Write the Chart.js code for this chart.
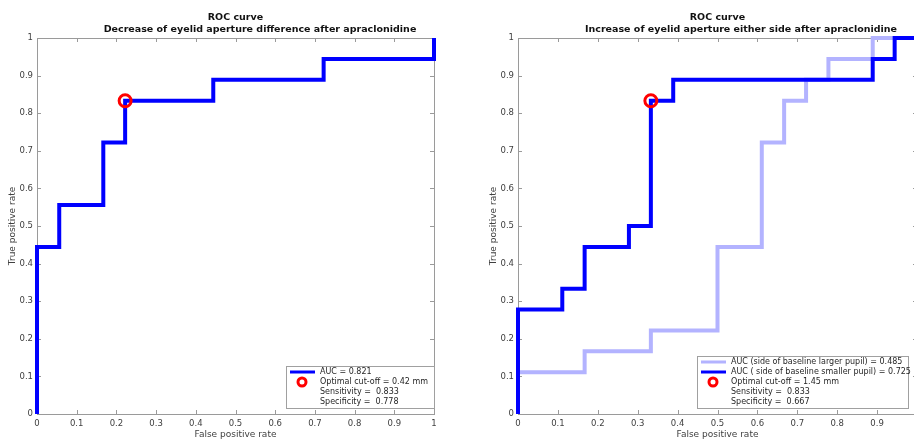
<!DOCTYPE html>
<html>
<head>
<meta charset="utf-8">
<script src="https://cdn.jsdelivr.net/npm/chart.js@4/dist/chart.umd.min.js"></script>
<style>
html, body { margin: 0; padding: 0; background: #fff; }
body { width: 914px; height: 439px; overflow: hidden; position: relative; }
canvas { position: absolute; top: 0; }
#rocIzq { left: 0; }
#rocDer { left: 481px; }
</style>
</head>
<body>
<canvas id="rocIzq" width="520" height="439"></canvas>
<canvas id="rocDer" width="520" height="439"></canvas>
<script>
// Datos (curvas ROC escalonadas)

// Panel izquierdo: disminucion de la diferencia de apertura palpebral
const izqFpr = [0, 0, 0.056, 0.056, 0.167, 0.167, 0.222, 0.222, 0.444, 0.444, 0.722, 0.722, 1, 1];
const izqTpr = [0, 0.444, 0.444, 0.556, 0.556, 0.722, 0.722, 0.833, 0.833, 0.889, 0.889, 0.944, 0.944, 1];
const corteIzq = [0.222, 0.833];
const leyendaIzq = ['AUC = 0.821', 'Optimal cut-off = 0.42 mm', 'Sensitivity =  0.833', 'Specificity =  0.778'];

// Panel derecho: pupila mayor (claro) y pupila menor (oscuro)
const mayorFpr = [0, 0, 0.167, 0.167, 0.333, 0.333, 0.5, 0.5, 0.611, 0.611, 0.667, 0.667, 0.722, 0.722, 0.778, 0.778, 0.889, 0.889, 1];
const mayorTpr = [0, 0.111, 0.111, 0.167, 0.167, 0.222, 0.222, 0.444, 0.444, 0.722, 0.722, 0.833, 0.833, 0.889, 0.889, 0.944, 0.944, 1, 1];
const menorFpr = [0, 0, 0.111, 0.111, 0.167, 0.167, 0.278, 0.278, 0.333, 0.333, 0.389, 0.389, 0.889, 0.889, 0.944, 0.944, 1];
const menorTpr = [0, 0.278, 0.278, 0.333, 0.333, 0.444, 0.444, 0.5, 0.5, 0.833, 0.833, 0.889, 0.889, 0.944, 0.944, 1, 1];
const corteDer = [0.333, 0.833];
const leyendaDer = ['AUC (side of baseline larger pupil) = 0.485', 'AUC ( side of baseline smaller pupil) = 0.725', 'Optimal cut-off = 1.45 mm', 'Sensitivity =  0.833', 'Specificity =  0.667'];

const ticksEje = [0, 0.1, 0.2, 0.3, 0.4, 0.5, 0.6, 0.7, 0.8, 0.9, 1];
const titulosIzq = ['ROC curve', 'Decrease of eyelid aperture difference after apraclonidine'];
const titulosDer = ['ROC curve', 'Increase of eyelid aperture either side after apraclonidine'];

const FUENTE = '"DejaVu Sans", sans-serif';
const AZUL = '#0000ff';
const AZUL_CLARO = '#b3b3ff';
const ROJO = '#ff0000';

function puntos(xs, ys) {
	return xs.map((x, i) => ({ x: x, y: ys[i] }));
}

// Marco tipo MATLAB: caja y marcas hacia dentro
const marcoMatlab = {
	id: 'marcoMatlab',
	beforeDatasetsDraw(chart) {
		const { ctx, chartArea: a, scales } = chart;
		ctx.save();
		ctx.strokeStyle = '#9a9a9a';
		ctx.lineWidth = 1;
		ctx.beginPath();
		scales.x.ticks.forEach(t => {
			const px = Math.round(scales.x.getPixelForValue(t.value)) + 0.5;
			ctx.moveTo(px, a.bottom); ctx.lineTo(px, a.bottom - 4);
			ctx.moveTo(px, a.top); ctx.lineTo(px, a.top + 4);
		});
		scales.y.ticks.forEach(t => {
			const py = Math.round(scales.y.getPixelForValue(t.value)) + 0.5;
			ctx.moveTo(a.left, py); ctx.lineTo(a.left + 4, py);
			ctx.moveTo(a.right, py); ctx.lineTo(a.right - 4, py);
		});
		ctx.stroke();
		ctx.strokeRect(Math.round(a.left) + 0.5, Math.round(a.top) + 0.5, Math.round(a.right - a.left), Math.round(a.bottom - a.top));
		ctx.restore();
	}
};

// Leyenda dentro del area (abajo a la derecha)
const leyendaROC = {
	id: 'leyendaROC',
	afterDraw(chart, args, opts) {
		const { ctx, chartArea } = chart;
		const items = chart.data.datasets;
		const alto = items.length * 10 + 2;
		const x0 = Math.round(chartArea.right - opts.margenDerecho - opts.ancho);
		const y0 = Math.round(chartArea.bottom - opts.margenInferior - alto);
		ctx.save();
		ctx.fillStyle = '#fff';
		ctx.fillRect(x0, y0, opts.ancho, alto);
		ctx.strokeStyle = '#a0a0a0';
		ctx.lineWidth = 1;
		ctx.strokeRect(x0 + 0.5, y0 + 0.5, opts.ancho, alto);
		ctx.font = '8px ' + FUENTE;
		ctx.textBaseline = 'middle';
		items.forEach((d, i) => {
			const yc = y0 + 6 + i * 10;
			if (d.muestra === 'linea') {
				ctx.strokeStyle = d.borderColor;
				ctx.lineWidth = 3;
				ctx.beginPath();
				ctx.moveTo(x0 + 4, yc); ctx.lineTo(x0 + 29, yc);
				ctx.stroke();
			} else if (d.muestra === 'circulo') {
				ctx.strokeStyle = d.pointBorderColor;
				ctx.lineWidth = 3;
				ctx.beginPath();
				ctx.arc(x0 + 16, yc, 4, 0, Math.PI * 2);
				ctx.stroke();
			}
			ctx.fillStyle = '#262626';
			ctx.fillText(d.label, x0 + 34, yc);
		});
		ctx.restore();
	}
};

function ejeLineal(titulo, esX) {
	return {
		type: 'linear',
		min: 0,
		max: 1,
		afterBuildTicks: s => { s.ticks = ticksEje.map(v => ({ value: v })); },
		afterFit: s => { if (esX) s.height = 25; else s.width = 37; },
		grid: { display: false, drawTicks: false },
		border: { display: false },
		ticks: {
			autoSkip: false,
			maxRotation: 0,
			padding: esX ? 5 : 4,
			color: '#404040',
			font: { family: FUENTE, size: 8.5 },
			callback: v => (v === 0 || v === 1) ? String(v) : v.toFixed(1)
		},
		title: {
			display: true,
			text: titulo,
			color: '#404040',
			font: { family: FUENTE, size: 9, lineHeight: '9px' },
			padding: esX ? { top: 0, bottom: 0 } : { top: 8.5, bottom: 0 }
		}
	};
}

function opcionesROC(titulos, anchoLeyenda, margenDerecho, relleno) {
	return {
		responsive: false,
		animation: false,
		devicePixelRatio: 1,
		layout: { padding: 0 },
		scales: {
			x: ejeLineal('False positive rate', true),
			y: ejeLineal('True positive rate', false),
			espacio: {
				type: 'linear', position: 'right', min: 0, max: 1,
				grid: { display: false, drawTicks: false }, border: { display: false },
				ticks: { display: false },
				afterFit: s => { s.width = relleno; }
			}
		},
		plugins: {
			legend: { display: false },
			tooltip: { enabled: false },
			title: {
				display: true, text: titulos[0], fullSize: false, color: '#111',
				font: { family: FUENTE, size: 9.5, weight: 'bold', lineHeight: '12px' },
				padding: { top: 12, bottom: 0 }
			},
			subtitle: {
				display: true, text: titulos[1], fullSize: true, color: '#111',
				font: { family: FUENTE, size: 9.5, weight: 'bold', lineHeight: '12px' },
				padding: { top: 0, bottom: 2 }
			},
			leyendaROC: { ancho: anchoLeyenda, margenDerecho: margenDerecho, margenInferior: 6 }
		}
	};
}

function lineaROC(label, xs, ys, color, orden) {
	return {
		label: label, data: puntos(xs, ys), borderColor: color, backgroundColor: color,
		borderWidth: 4, pointRadius: 0, tension: 0, fill: false, clip: false,
		muestra: 'linea', order: orden
	};
}

function puntoCorte(label, p) {
	return {
		label: label, data: [{ x: p[0], y: p[1] }], showLine: false,
		pointRadius: 6, pointBorderWidth: 3, pointBorderColor: ROJO,
		pointBackgroundColor: 'rgba(0,0,0,0)', clip: false,
		muestra: 'circulo', order: 0
	};
}

function textoSolo(label) {
	return { label: label, data: [], showLine: false, pointRadius: 0, muestra: null, order: 5 };
}

new Chart(document.getElementById('rocIzq'), {
	type: 'line',
	data: {
		datasets: [
			lineaROC(leyendaIzq[0], izqFpr, izqTpr, AZUL, 1),
			puntoCorte(leyendaIzq[1], corteIzq),
			textoSolo(leyendaIzq[2]),
			textoSolo(leyendaIzq[3])
		]
	},
	options: opcionesROC(titulosIzq, 148, 0, 86),
	plugins: [marcoMatlab, leyendaROC]
});

new Chart(document.getElementById('rocDer'), {
	type: 'line',
	data: {
		datasets: [
			lineaROC(leyendaDer[0], mayorFpr, mayorTpr, AZUL_CLARO, 2),
			lineaROC(leyendaDer[1], menorFpr, menorTpr, AZUL, 1),
			puntoCorte(leyendaDer[2], corteDer),
			textoSolo(leyendaDer[3]),
			textoSolo(leyendaDer[4])
		]
	},
	options: opcionesROC(titulosDer, 211, 9, 84),
	plugins: [marcoMatlab, leyendaROC]
});
</script>
</body>
</html>
